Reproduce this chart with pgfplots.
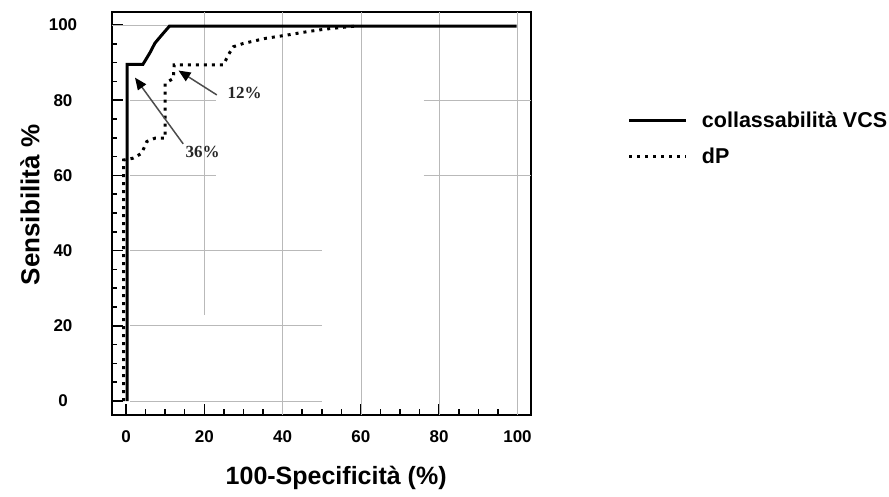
\documentclass[border=0pt]{standalone}
\usepackage{pgfplots}
\pgfplotsset{compat=1.18}
\usetikzlibrary{arrows.meta}
\usepackage{fontspec}
\setmainfont{Liberation Sans}
\newfontfamily\seriffont{Liberation Serif}

\begin{document}
\begin{tikzpicture}[x=1pt,y=1pt]
\useasboundingbox (-112,-82) rectangle (777,415);
\begin{axis}[
 at={(0,0)}, anchor=south west,
 scale only axis, width=419pt, height=403pt,
 xmin=-3.58, xmax=103.45, ymin=-3.72, ymax=103.46,
 axis line style={line width=2.5pt},
 tick pos=left, tick align=inside,
 xtick={0,20,...,100}, ytick={0,20,...,100},
 minor tick num=3,
 major tick length=11pt, minor tick length=5.5pt,
 tick style={black, line width=1.5pt},
 tick label style={font=\bfseries\fontsize{17}{19}\selectfont},
 /pgf/number format/assume math mode=true,
 xticklabel style={anchor=center, yshift=-22pt},
 yticklabel style={anchor=center, xshift=-49pt},
 xlabel={100-Specificità (\%)}, ylabel={Sensibilità \%},
 xlabel style={at={(axis description cs:0.535,-0.156)}, anchor=center, font=\bfseries\fontsize{25}{28}\selectfont},
 ylabel style={at={(axis description cs:-0.196,0.521)}, anchor=center, font=\bfseries\fontsize{26}{28}\selectfont},
 legend style={draw=none, fill=none, at={(axis description cs:1.231,0.757)}, anchor=north west,
   font=\bfseries\fontsize{21.5}{25}\selectfont, row sep=15pt, inner sep=0pt, nodes={inner sep=2pt},
   /tikz/every odd column/.append style={column sep=12pt}},
 legend image code/.code={\draw[#1] (0pt,0pt) -- (57pt,0pt);},
 legend cell align=left,
]
% partial grid lines
\addplot[gray!55, line width=0.8pt, forget plot] coordinates {(20,23) (20,103.5)};
\addplot[gray!55, line width=0.8pt, forget plot] coordinates {(40,-3.7) (40,103.5)};
\addplot[gray!55, line width=0.8pt, forget plot] coordinates {(60,-3.7) (60,103.5)};
\addplot[gray!55, line width=0.8pt, forget plot] coordinates {(80,-3.7) (80,103.5)};
\addplot[gray!55, line width=0.8pt, forget plot] coordinates {(100,-3.7) (100,103.5)};
\addplot[gray!55, line width=0.8pt, forget plot] coordinates {(-3.6,100) (12,100)};
\addplot[gray!55, line width=0.8pt, forget plot] coordinates {(1,80) (23,80)};
\addplot[gray!55, line width=0.8pt, forget plot] coordinates {(76,80) (103.5,80)};
\addplot[gray!55, line width=0.8pt, forget plot] coordinates {(1,60) (23,60)};
\addplot[gray!55, line width=0.8pt, forget plot] coordinates {(76,60) (103.5,60)};
\addplot[gray!55, line width=0.8pt, forget plot] coordinates {(1,40) (50,40)};
\addplot[gray!55, line width=0.8pt, forget plot] coordinates {(1,20) (50,20)};
\addplot[gray!55, line width=0.8pt, forget plot] coordinates {(1,0) (50,0)};
% collassabilita VCS
\addplot[black, line width=3pt, line join=miter] coordinates {
 (0.3,0) (0.3,89.5) (4.3,89.5) (6.1,92.6) (7.4,95.2) (9.1,97.3) (11.1,99.7) (99.8,99.7)};
% dP
\addplot[black, line width=3pt, dash pattern={on 3pt off 5pt}] coordinates {
 (-0.6,0) (-0.6,64.1) (1.9,64.6) (4,65.9) (5.3,69) (7.4,69.9) (10,69.9) (10,84.5)
 (12.1,85.8) (12.3,89.4) (24.9,89.4) (26.1,92) (27.4,94.2) (30,95.1) (35.9,96.5)
 (41,97.3) (46.1,98.2) (50.8,98.9) (58.5,99.7)};
\legend{collassabilità VCS, dP}
% annotations
\draw[gray!60!black, line width=1.5pt, -{Triangle[length=12pt,width=10pt,color=black]}] (axis cs:23.2,81.4) -- (axis cs:13.4,87.9);
\draw[gray!60!black, line width=1.5pt, -{Triangle[length=12pt,width=10pt,color=black]}] (axis cs:14.6,68.4) -- (axis cs:2.3,86);
\node[font=\seriffont\bfseries\fontsize{17}{19}\selectfont, text=black!85] at (axis cs:30.3,81.9) {12\%};
\node[font=\seriffont\bfseries\fontsize{17}{19}\selectfont, text=black!85] at (axis cs:19.6,66.3) {36\%};
\end{axis}
\end{tikzpicture}
\end{document}
